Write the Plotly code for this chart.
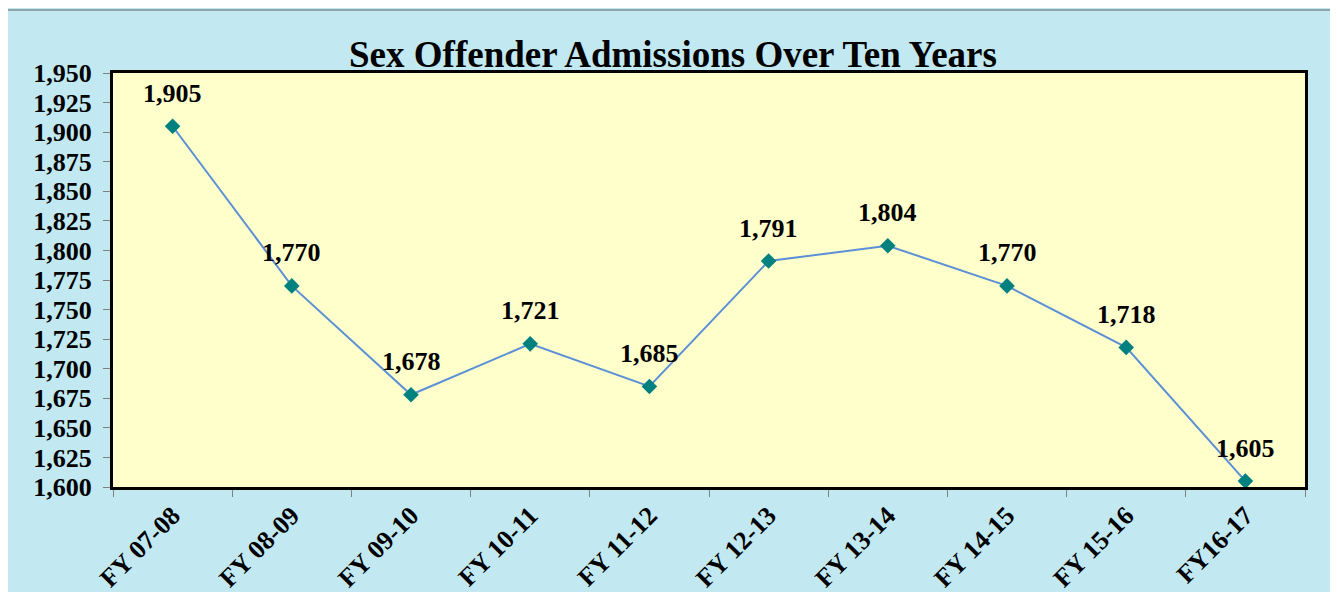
import plotly.graph_objects as go

categories = ["FY 07-08", "FY 08-09", "FY 09-10", "FY 10-11", "FY 11-12",
              "FY 12-13", "FY 13-14", "FY 14-15", "FY 15-16", "FY16-17"]
admissions = [1905, 1770, 1678, 1721, 1685, 1791, 1804, 1770, 1718, 1605]
y_ticks = list(range(1600, 1951, 25))

FONT = "Liberation Serif"
# page has an 8px body margin; figure sized to fit the window
W, H = 1330, 584
L, R, T, B = 105, 33, 65, 105
pw, ph = W - L - R, H - T - B

fig = go.Figure()
fig.add_trace(go.Scatter(
    x=categories, y=admissions, mode="lines+markers",
    line=dict(color="#5B8FD6", width=2),
    marker=dict(symbol="diamond", size=12, color="#00807F"),
    cliponaxis=False, hoverinfo="x+y",
))

for c, v in zip(categories, admissions):
    fig.add_annotation(x=c, y=v, text=f"<b>{v:,}</b>", showarrow=False, yshift=33,
                       font=dict(family=FONT, size=26, color="black"))

def px_x(p):
    return (p - L) / pw
def px_y(p):
    return 1 - (p - T) / ph

fig.add_shape(type="rect", xref="paper", yref="paper", layer="below",
              x0=px_x(-2), x1=px_x(1325), y0=px_y(H + 5), y1=px_y(2),
              fillcolor="rgba(0,0,0,0)", line=dict(color="#7F8F94", width=1.5))

fig.update_layout(
    width=W, height=H,
    margin=dict(l=L, r=R, t=T, b=B, autoexpand=False),
    paper_bgcolor="#C2E9F2",
    plot_bgcolor="#FFFFCC",
    showlegend=False,
    title=dict(text="<b>Sex Offender Admissions Over Ten Years</b>",
               x=0.5, xref="container", xanchor="center",
               y=1 - 46 / H, yanchor="middle",
               font=dict(family=FONT, size=37, color="black")),
    font=dict(family=FONT, color="black"),
)
fig.update_xaxes(
    type="category", range=[-0.5, len(categories) - 0.5],
    tickvals=categories, ticktext=[f"<b>{c}</b>" for c in categories],
    tickson="boundaries", ticks="outside", ticklen=7, tickcolor="#808080",
    tickangle=-45, tickfont=dict(family=FONT, size=26, color="black"),
    showline=True, linecolor="black", linewidth=3, mirror=True,
    showgrid=False, zeroline=False, automargin=False,
)
fig.update_yaxes(
    range=[1600, 1950], tickvals=y_ticks,
    ticktext=[f"<b>{v:,}</b>" for v in y_ticks],
    ticks="outside", ticklen=7, tickcolor="#808080", ticklabelstandoff=6,
    tickfont=dict(family=FONT, size=26, color="black"),
    showline=True, linecolor="black", linewidth=3, mirror=True,
    showgrid=False, zeroline=False, automargin=False,
)

fig.write_html("out.html")
